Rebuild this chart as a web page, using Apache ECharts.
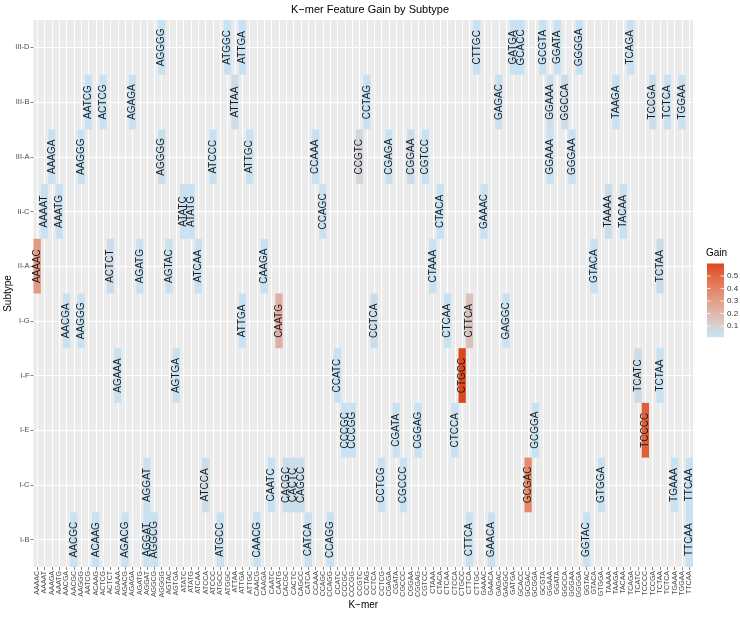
<!DOCTYPE html>
<html>
<head>
<meta charset="utf-8">
<script src="https://cdn.jsdelivr.net/npm/echarts@6/dist/echarts.min.js"></script>
<style>html,body{margin:0;padding:0;background:#fff}#c{width:740px;height:618px}</style>
</head>
<body>
<div id="c"></div>
<script>
// ---- categories ----
const kmers = ['AAAAC','AAAAT','AAAGA','AAATG','AACGA','AACGC','AAGGG','AATCG','ACAAG','ACTCG',
  'ACTCT','AGAAA','AGACG','AGAGA','AGATG','AGGAT','AGGCG','AGGGG','AGTAC','AGTGA',
  'ATATC','ATATG','ATCAA','ATCCA','ATCCC','ATGCC','ATGGC','ATTAA','ATTGA','ATTGC',
  'CAACG','CAAGA','CAATC','CAATG','CACGC','CACTC','CAGCC','CATCA','CCAAA','CCAGC',
  'CCAGG','CCATC','CCCGC','CCCGG','CCGTC','CCTAG','CCTCA','CCTCG','CGAGA','CGATA',
  'CGCCC','CGGAA','CGGAG','CGTCC','CTAAA','CTACA','CTCAA','CTCCA','CTGCC','CTTCA',
  'CTTGC','GAAAC','GAACA','GAGAC','GAGGC','GATGA','GCACC','GCGAC','GCGGA','GCGTA',
  'GGAAA','GGATA','GGCCA','GGGAA','GGGGA','GGTAC','GTACA','GTGGA','TAAAA','TAAGA',
  'TACAA','TCAGA','TCATC','TCCCC','TCCGA','TCTAA','TCTCA','TGAAA','TGGAA','TTCAA'];
const subtypes = ['I-B','I-C','I-E','I-F','I-G','II-A','II-C','III-A','III-B','III-D'];

// ---- series values (k-mer, gain) per subtype ----
const kmers_IIID = ['AGGGG','ATGGC','ATTGA','CTTGC','GATGA','GCACC','GCGTA','GGATA','GGGGA','TCAGA'];
const gain_IIID  = [0.02,0.02,0.02,0.02,0.02,0.02,0.02,0.02,0.02,0.02];
const kmers_IIIB = ['AATCG','ACTCG','AGAGA','ATTAA','CCTAG','GAGAC','GGAAA','GGCCA','TAAGA','TCCGA','TCTCA','TGGAA'];
const gain_IIIB  = [0.02,0.02,0.02,0.045,0.02,0.02,0.03,0.045,0.02,0.045,0.02,0.02];
const kmers_IIIA = ['AAAGA','AAGGG','AGGGG','ATCCC','ATTGC','CCAAA','CCGTC','CGAGA','CGGAA','CGTCC','GGAAA','GGGAA'];
const gain_IIIA  = [0.02,0.02,0.04,0.02,0.02,0.02,0.085,0.02,0.045,0.02,0.02,0.02];
const kmers_IIC  = ['AAAAT','AAATG','ATATC','ATATG','CCAGC','CTACA','GAAAC','TAAAA','TACAA'];
const gain_IIC   = [0.02,0.02,0.025,0.02,0.02,0.02,0.02,0.045,0.02];
const kmers_IIA  = ['AAAAC','ACTCT','AGATG','AGTAC','ATCAA','CAAGA','CTAAA','GTACA','TCTAA'];
const gain_IIA   = [0.32,0.045,0.02,0.025,0.02,0.02,0.02,0.02,0.045];
const kmers_IG   = ['AACGA','AAGGG','ATTGA','CAATG','CCTCA','CTCAA','CTTCA','GAGGC'];
const gain_IG    = [0.02,0.02,0.02,0.23,0.045,0.02,0.16,0.02];
const kmers_IF   = ['AGAAA','AGTGA','CCATC','CTGCC','TCATC','TCTAA'];
const gain_IF    = [0.02,0.02,0.02,0.60,0.045,0.02];
const kmers_IE   = ['CCCGC','CCCGG','CGATA','CGGAG','CTCCA','GCGGA','TCCCC'];
const gain_IE    = [0.02,0.02,0.02,0.02,0.02,0.02,0.53];
const kmers_IC   = ['AGGAT','ATCCA','CAATC','CACGC','CACTC','CAGCC','CCTCG','CGCCC','GCGAC','GTGGA','TGAAA','TTCAA'];
const gain_IC    = [0.02,0.045,0.02,0.04,0.035,0.04,0.02,0.02,0.38,0.02,0.02,0.02];
const kmers_IB   = ['AACGC','ACAAG','AGACG','AGGAT','AGGCG','ATGCC','CAACG','CATCA','CCAGG','CTTCA','GAACA','GGTAC','TTCAA'];
const gain_IB    = [0.02,0.02,0.02,0.02,0.02,0.02,0.02,0.02,0.02,0.02,0.02,0.02,0.02];

// ---- colour scale / legend ticks ----
const gainMin = 0.01, gainMax = 0.60;
const legendTicks = [0.1, 0.2, 0.3, 0.4, 0.5];
const scaleColors = ['#C6E4F7','#D3D6DA','#DBC3BE','#E1B0A3','#E39D88','#E48A6D','#E37554','#E0603A','#DC481E'];

const rows = [
  ['III-D', kmers_IIID, gain_IIID], ['III-B', kmers_IIIB, gain_IIIB], ['III-A', kmers_IIIA, gain_IIIA],
  ['II-C', kmers_IIC, gain_IIC], ['II-A', kmers_IIA, gain_IIA], ['I-G', kmers_IG, gain_IG],
  ['I-F', kmers_IF, gain_IF], ['I-E', kmers_IE, gain_IE], ['I-C', kmers_IC, gain_IC], ['I-B', kmers_IB, gain_IB]
];
const data = [];
rows.forEach(([st, ks, gs]) => ks.forEach((k, i) => data.push([kmers.indexOf(k), subtypes.indexOf(st), gs[i]])));

const FONT = 'Liberation Sans, Arial, Helvetica, sans-serif';
const chart = echarts.init(document.getElementById('c'), null, {renderer: 'canvas'});

// legend geometry
const LX = 707, LW = 17, LBOT = 337.25, LH = 73.75;
const ly = v => LBOT - (v - gainMin) / (gainMax - gainMin) * LH;
const legendEls = [
  {type: 'text', left: 706, top: 248, style: {text: 'Gain', font: '10px ' + FONT, fill: '#000'}},
  {type: 'rect', shape: {x: LX, y: ly(gainMax), width: LW, height: LH},
    style: {fill: {type: 'linear', x: 0, y: 1, x2: 0, y2: 0,
      colorStops: scaleColors.map((c, i) => ({offset: i / (scaleColors.length - 1), color: c}))}}}
];
legendTicks.forEach(v => {
  const y = ly(v);
  legendEls.push({type: 'line', shape: {x1: LX, y1: y, x2: LX + 3.5, y2: y}, style: {stroke: '#fff', lineWidth: 0.8}});
  legendEls.push({type: 'line', shape: {x1: LX + LW - 3.5, y1: y, x2: LX + LW, y2: y}, style: {stroke: '#fff', lineWidth: 0.8}});
  legendEls.push({type: 'text', x: LX + LW + 3, y: y, style: {text: v.toFixed(1), font: '8px ' + FONT, fill: '#333', textVerticalAlign: 'middle', verticalAlign: 'middle'}});
});

chart.setOption({
  animation: false,
  backgroundColor: '#fff',
  title: {text: 'K\u2212mer Feature Gain by Subtype', left: 'center', top: -1,
    textStyle: {fontFamily: FONT, fontSize: 11, fontWeight: 'normal', color: '#000'}},
  grid: {left: 33.5, right: 47, top: 20, bottom: 51, show: true, backgroundColor: '#EBEBEB', borderWidth: 0,
    containLabel: false, outerBoundsMode: 'none'},
  xAxis: {
    type: 'category', data: kmers,
    name: 'K\u2212mer', nameLocation: 'middle', nameGap: 33, nameMoveOverlap: false,
    nameTextStyle: {fontFamily: FONT, fontSize: 10, color: '#000'},
    axisLine: {show: false},
    axisTick: {show: true, interval: 0, alignWithLabel: true, length: 3, lineStyle: {color: '#333', width: 0.6}},
    axisLabel: {interval: 0, rotate: 90, fontSize: 7, fontFamily: FONT, color: '#4D4D4D', margin: 4},
    splitLine: {show: true, interval: 0, alignWithLabel: true, lineStyle: {color: '#fff', width: 1}}
  },
  yAxis: {
    type: 'category', data: subtypes,
    name: 'Subtype', nameLocation: 'middle', nameGap: 20, nameMoveOverlap: false,
    nameTextStyle: {fontFamily: FONT, fontSize: 10, color: '#000'},
    axisLine: {show: false},
    axisTick: {show: true, interval: 0, alignWithLabel: true, length: 3, lineStyle: {color: '#333', width: 0.6}},
    axisLabel: {interval: 0, fontSize: 7.5, fontFamily: FONT, color: '#4D4D4D', margin: 4},
    splitLine: {show: true, interval: 0, alignWithLabel: true, lineStyle: {color: '#fff', width: 1}}
  },
  visualMap: {show: false, type: 'continuous', dimension: 2, min: gainMin, max: gainMax,
    seriesIndex: 0, inRange: {color: scaleColors}},
  series: [
    {
      type: 'custom', data: data, z: 2,
      renderItem: (params, api) => {
        const c = api.coord([api.value(0), api.value(1)]);
        const s = api.size([1, 1]);
        return {type: 'rect', shape: {x: c[0] - s[0] / 2, y: c[1] - s[1] / 2, width: s[0], height: s[1]},
          style: {fill: api.visual('color')}};
      }
    },
    {
      type: 'custom', data: data, z: 3,
      renderItem: (params, api) => {
        const c = api.coord([api.value(0), api.value(1)]);
        return {type: 'text', x: c[0], y: c[1], rotation: Math.PI / 2,
          style: {text: kmers[api.value(0)], font: '10px ' + FONT, fill: '#1A1A1A',
            align: 'center', verticalAlign: 'middle', textAlign: 'center', textVerticalAlign: 'middle'}};
      }
    }
  ],
  graphic: legendEls
});
</script>
</body>
</html>
